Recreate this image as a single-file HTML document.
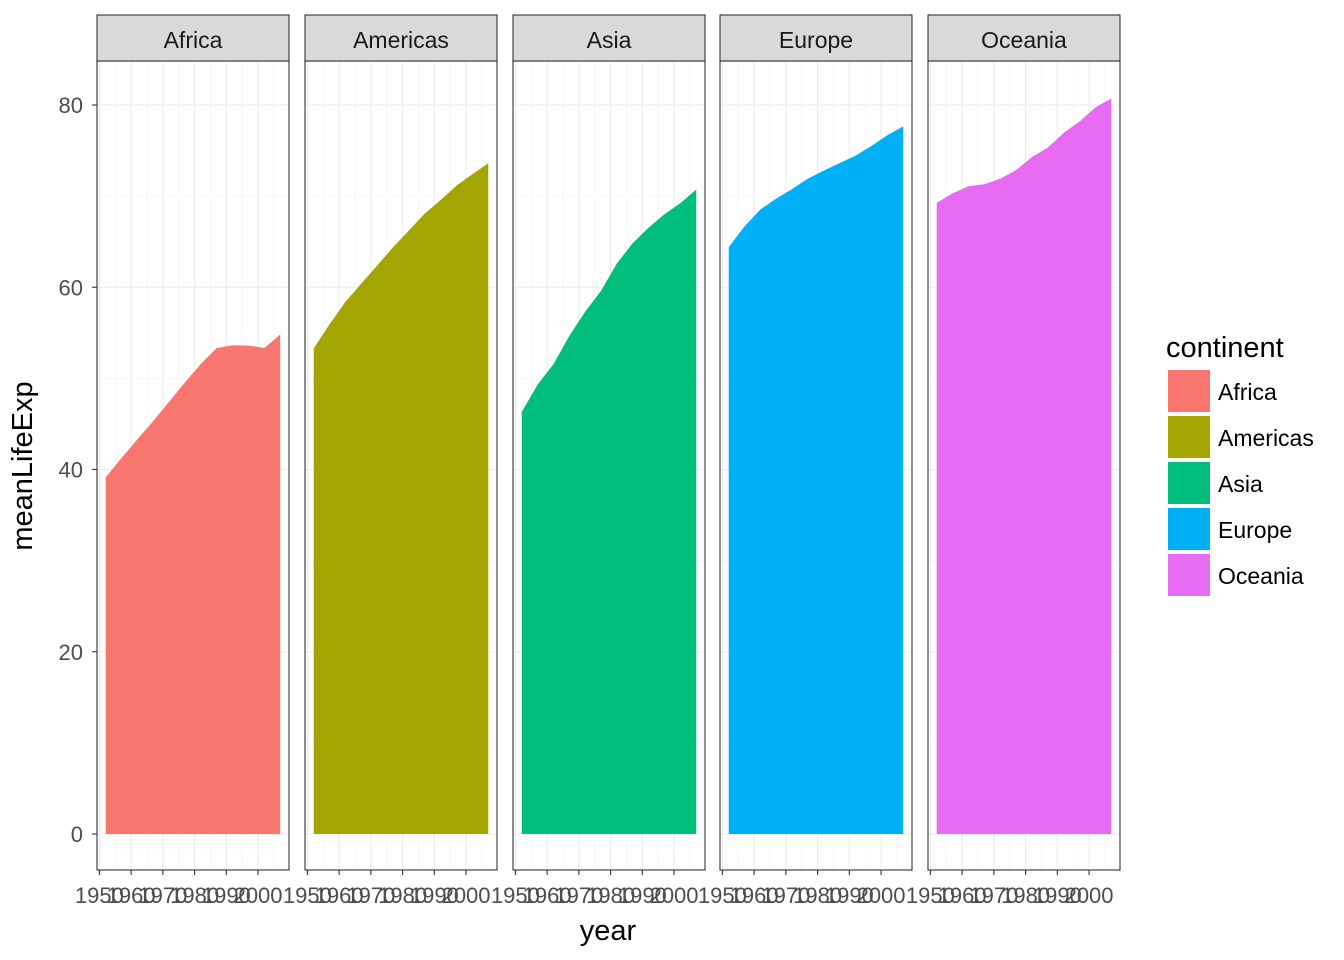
<!DOCTYPE html>
<html><head><meta charset="utf-8"><style>
body{margin:0;background:#fff;}
svg{display:block;font-family:"Liberation Sans",Arial,sans-serif;}
</style></head><body>
<svg id="chart" width="1344" height="960" viewBox="0 0 1344 960" xmlns="http://www.w3.org/2000/svg"></svg>
<script>
const continents = ["Africa","Americas","Asia","Europe","Oceania"];
const colors = ["#F8766D","#A3A500","#00BF7D","#00B0F6","#E76BF3"];
const years = [1952,1957,1962,1967,1972,1977,1982,1987,1992,1997,2002,2007];
const africa = [39.14,41.27,43.32,45.33,47.45,49.58,51.59,53.34,53.63,53.60,53.33,54.81];
const americas = [53.28,55.96,58.40,60.41,62.39,64.39,66.23,68.09,69.57,71.15,72.42,73.61];
const asia = [46.31,49.32,51.56,54.66,57.32,59.61,62.62,64.85,66.54,68.02,69.23,70.73];
const europe = [64.41,66.70,68.54,69.74,70.78,71.94,72.81,73.64,74.44,75.51,76.70,77.65];
const oceania = [69.26,70.30,71.09,71.31,71.91,72.86,74.29,75.32,76.94,78.19,79.74,80.72];
const series = [africa,americas,asia,europe,oceania];
const yTicks = [0,20,40,60,80];
const xTicks = [1950,1960,1970,1980,1990,2000];

const svg = document.getElementById('chart');
const NS = 'http://www.w3.org/2000/svg';
function mk(tag, attrs, parent){const e=document.createElementNS(NS,tag);for(const k in attrs)e.setAttribute(k,attrs[k]);(parent||svg).appendChild(e);return e;}
const panelLefts=[97,305,513,720,928], pw=192, pTop=61, pBottom=870;
const y = v => 834 - v*(834-105)/80;
const xmin=1952-2.75, xmax=2007+2.75;
const x = (i,v) => panelLefts[i] + (v-xmin)/(xmax-xmin)*pw;

continents.forEach((c,i)=>{
  const L=panelLefts[i];
  const g=mk('g',{});
  
  
  mk('rect',{x:L,y:pTop,width:pw,height:pBottom-pTop,fill:'#fff'},g);
  for(let v=10;v<=80;v+=20){mk('line',{x1:L,x2:L+pw,y1:y(v),y2:y(v),stroke:'#f0f0f0','stroke-width':0.6},g);}
  for(let v=1955;v<=2005;v+=10){mk('line',{x1:x(i,v),x2:x(i,v),y1:pTop,y2:pBottom,stroke:'#f0f0f0','stroke-width':0.6},g);}
  yTicks.forEach(v=>mk('line',{x1:L,x2:L+pw,y1:y(v),y2:y(v),stroke:'#ebebeb','stroke-width':1.1},g));
  xTicks.forEach(v=>mk('line',{x1:x(i,v),x2:x(i,v),y1:pTop,y2:pBottom,stroke:'#ebebeb','stroke-width':1.1},g));
  const d=series[i];
  let p='M'+x(i,years[0])+','+y(0);
  years.forEach((yr,j)=>{p+=' L'+x(i,yr)+','+y(d[j]);});
  p+=' L'+x(i,years[years.length-1])+','+y(0)+' Z';
  const a=mk('path',{d:p,fill:colors[i]},g);
  
  
  mk('rect',{x:L,y:pTop,width:pw,height:pBottom-pTop,fill:'none',stroke:'#333','stroke-width':1.1},g);
  const s=mk('rect',{x:L,y:15,width:pw,height:46,fill:'#d9d9d9',stroke:'#333','stroke-width':1.1},g);
  
  
  const st=mk('text',{x:L+pw/2,y:48,'text-anchor':'middle','font-size':23,fill:'#1a1a1a'},g);
  st.textContent=c;
  xTicks.forEach(v=>{
    mk('line',{x1:x(i,v),x2:x(i,v),y1:pBottom,y2:pBottom+5,stroke:'#333','stroke-width':1.1},g);
    const t=mk('text',{x:x(i,v),y:pBottom+33,'text-anchor':'middle','font-size':22,fill:'#4d4d4d'},g);
    
    
    t.textContent=v;
  });
});
yTicks.forEach(v=>{
  mk('line',{x1:92,x2:97,y1:y(v),y2:y(v),stroke:'#333','stroke-width':1.1});
  const t=mk('text',{x:83,y:y(v)+8,'text-anchor':'end','font-size':22,fill:'#4d4d4d'});
  
  
  t.textContent=v;
});
const xt=mk('text',{x:608,y:940,'text-anchor':'middle','font-size':29,fill:'#000'});


xt.textContent='year';
const yt=mk('text',{x:32,y:466,'text-anchor':'middle','font-size':29,fill:'#000',transform:'rotate(-90 32 466)'});


yt.textContent='meanLifeExp';
const lg=mk('g',{});


const lt=mk('text',{x:1166,y:357,'font-size':29,fill:'#000'},lg);
lt.textContent='continent';
continents.forEach((c,i)=>{
  const r=mk('rect',{x:1168,y:370+i*46,width:42,height:42,fill:colors[i]},lg);
  
  
  const t=mk('text',{x:1218,y:400+i*46,'font-size':23,fill:'#000'},lg);
  
  
  t.textContent=c;
});
</script>
</body></html>
